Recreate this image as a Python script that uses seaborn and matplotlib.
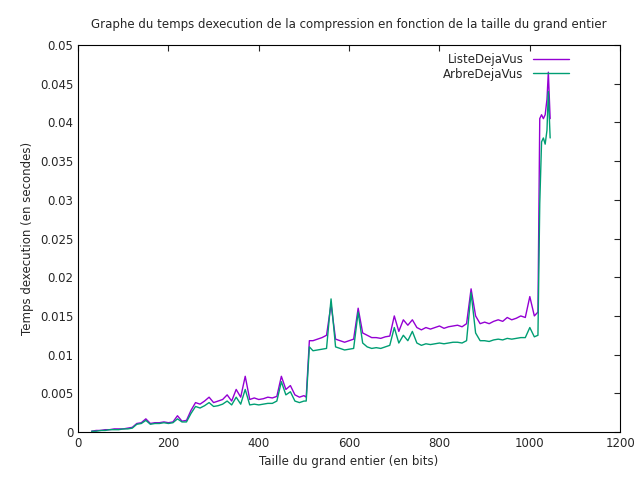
import numpy as np
import pandas as pd
import matplotlib.pyplot as plt
import seaborn as sns

# Taille du grand entier (bits)
taille = ([30, 40, 50, 60, 70, 80, 90, 100, 110, 120]
          + list(range(130, 251, 10))
          + list(range(260, 501, 10))
          + [505, 512]
          + list(range(520, 1011, 10))
          + [1018, 1022, 1026, 1030, 1034, 1038, 1041, 1045])

liste = [.0001, .0002, .0002, .0003, .0003, .0004, .0004, .0004, .0005, .0006,
         .0011, .0012, .0017, .0011, .0012, .0012, .0013, .0012, .0013, .0021, .0014, .0015, .0028,
         .0038, .0036, .0040, .0045, .0038, .0040, .0042, .0048, .0040, .0055, .0045, .0072, .0042,
         .0044, .0042, .0043, .0045, .0044, .0046, .0072, .0055, .0060, .0048, .0045, .0047,
         .0045, .0118,
         .0118, .0120, .0122, .0125, .0165, .0120, .0118, .0116, .0118, .0120, .0160, .0128, .0125,
         .0122, .0122, .0121, .0123, .0124, .0150, .0130, .0145, .0138, .0145, .0135, .0132, .0135,
         .0133, .0135, .0137, .0134, .0136, .0137, .0138, .0136, .0140, .0185, .0150, .0140, .0142,
         .0140, .0143, .0145, .0143, .0148, .0145, .0147, .0150, .0148, .0175, .0150,
         .0155, .0405, .0410, .0405, .0410, .0430, .0465, .0405]

arbre = [.0001, .0001, .0002, .0002, .0003, .0003, .0003, .0004, .0004, .0005,
         .0010, .0011, .0015, .0010, .0011, .0011, .0012, .0011, .0012, .0017, .0013, .0013, .0024,
         .0033, .0031, .0034, .0038, .0033, .0034, .0036, .0040, .0035, .0045, .0036, .0055, .0035,
         .0036, .0035, .0036, .0037, .0037, .0040, .0065, .0048, .0052, .0040, .0038, .0040,
         .0040, .0110,
         .0105, .0106, .0107, .0108, .0172, .0110, .0108, .0106, .0107, .0108, .0155, .0115, .0110,
         .0108, .0109, .0108, .0110, .0112, .0135, .0115, .0125, .0118, .0130, .0115, .0112, .0114,
         .0113, .0114, .0115, .0114, .0115, .0116, .0116, .0115, .0118, .0180, .0128, .0118, .0118,
         .0117, .0119, .0120, .0119, .0121, .0120, .0121, .0122, .0122, .0135, .0123,
         .0125, .0295, .0375, .0380, .0372, .0390, .0440, .0380]

df = pd.DataFrame({'taille': taille, 'ListeDejaVus': liste, 'ArbreDejaVus': arbre})
df = df.melt(id_vars='taille', var_name='serie', value_name='temps')

sns.set_style('white')
plt.rcParams['font.family'] = ['DejaVu Sans']
plt.rcParams['font.size'] = 8.5

fig, ax = plt.subplots(figsize=(6.4, 4.8), dpi=100)
sns.lineplot(data=df, x='taille', y='temps', hue='serie',
             palette={'ListeDejaVus': '#9400d3', 'ArbreDejaVus': '#009e73'},
             linewidth=1, ax=ax)

ax.set_xlim(0, 1200)
ax.set_ylim(0, 0.05)
ax.set_xticks(range(0, 1201, 200))
ax.set_yticks(np.arange(0, 0.0501, 0.005))
ax.set_yticklabels(['0'] + [f'{v:g}' for v in np.arange(0.005, 0.0501, 0.005)])
ax.tick_params(direction='in', top=True, right=True, length=4)
ax.set_xlabel('Taille du grand entier (en bits)')
ax.set_ylabel('Temps dexecution (en secondes)')
ax.set_title('Graphe du temps dexecution de la compression en fonction de la taille du grand entier',
             fontsize=8.5, pad=12)
for s in ax.spines.values():
    s.set_color('black')
    s.set_linewidth(0.8)

leg = ax.legend(title=None, frameon=False, loc='upper right', markerfirst=False,
                handlelength=3, borderaxespad=0.3, labelspacing=0.1,
                bbox_to_anchor=(0.92, 1.0))

plt.subplots_adjust(left=0.122, right=0.969, bottom=0.1, top=0.906)
plt.savefig('out.png')
